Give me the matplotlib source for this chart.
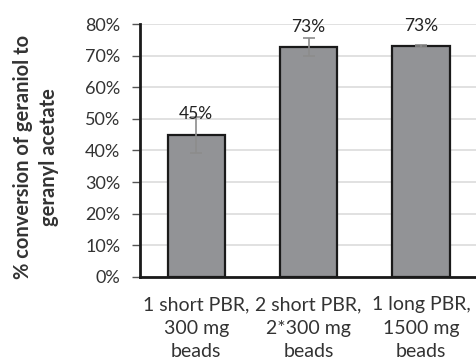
import matplotlib.pyplot as plt
from matplotlib.ticker import PercentFormatter

plt.rcParams['font.family'] = ['Lato', 'DejaVu Sans']

categories = ["1 short PBR,\n300 mg\nbeads", "2 short PBR,\n2*300 mg\nbeads", "1 long PBR,\n1500 mg\nbeads"]
conversion = [44.9, 72.7, 73.0]
errors = [5.8, 2.8, 0.3]
labels = ["45%", "73%", "73%"]

fig = plt.figure(figsize=(4.76, 3.6), dpi=100)
ax = fig.add_axes([0.294, 0.2306, 0.709, 0.7027])

x = range(len(categories))
ax.bar(x, conversion, width=0.51, color="#929396", edgecolor="#1a1a1a", linewidth=1.6, zorder=3)
ax.errorbar(x, conversion, yerr=errors, fmt="none", ecolor="#8c8c8c", elinewidth=1.2,
            capsize=4, capthick=1.2, zorder=4)
for xi, v, lab in zip(x, conversion, labels):
    ax.text(xi, v + 6.5, lab, ha="center", va="center", fontsize=12.5, color="#222222", zorder=5)

ax.set_xlim(-0.5, 2.5)
ax.set_ylim(0, 80)
ax.set_yticks(range(0, 81, 10))
ax.yaxis.set_major_formatter(PercentFormatter(decimals=0))
ax.grid(axis="y", color="#dcdcdc", linewidth=1.2, zorder=0)
ax.set_xticks(list(x))
ax.set_xticklabels(categories, fontsize=14, color="#333333", linespacing=1.45)
ax.tick_params(axis="x", length=0, pad=14)
ax.tick_params(axis="y", length=6, width=1, color="#555555", labelsize=13, labelcolor="#333333", pad=8)

for s in ["top", "right"]:
    ax.spines[s].set_visible(False)
ax.spines["left"].set_linewidth(2)
ax.spines["bottom"].set_linewidth(2)
ax.spines["left"].set_color("#1a1a1a")
ax.spines["bottom"].set_color("#1a1a1a")

ax.set_ylabel("% conversion of geraniol to\ngeranyl acetate", fontsize=14.5, fontweight="bold",
              color="#333333", linespacing=1.4, va="center", ha="center")
ax.yaxis.set_label_coords(-0.308, 0.474)

fig.savefig("out.png", dpi=100)
